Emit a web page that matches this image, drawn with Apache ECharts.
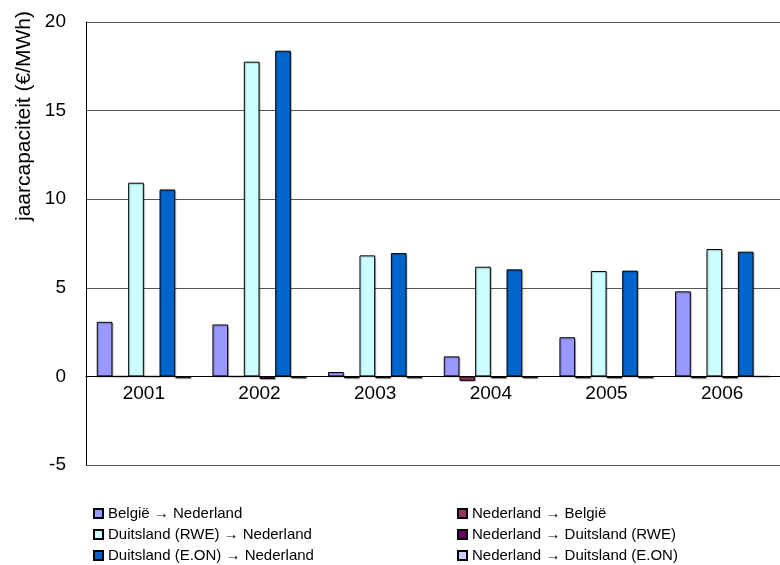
<!DOCTYPE html>
<html>
<head>
<meta charset="utf-8">
<script src="https://cdn.jsdelivr.net/npm/echarts@6/dist/echarts.min.js"></script>
<style>
  html, body { margin: 0; padding: 0; background: #fff; }
  #chart { width: 780px; height: 565px; }
</style>
</head>
<body>
<div id="chart"></div>
<script>
// jaren
var years = ['2001', '2002', '2003', '2004', '2005', '2006'];

// reeksnamen
var names = [
    'België → Nederland',
    'Nederland → België',
    'Duitsland (RWE) → Nederland',
    'Nederland → Duitsland (RWE)',
    'Duitsland (E.ON) → Nederland',
    'Nederland → Duitsland (E.ON)'
];

var beNl    = [3.08, 2.93, 0.25, 1.13, 2.21, 4.8];
var nlBe    = [0, 0, -0.1, -0.25, -0.1, -0.1];
var rweNl   = [10.93, 17.76, 6.83, 6.19, 5.95, 7.19];
var nlRwe   = [0, -0.15, -0.1, -0.1, -0.1, -0.1];
var eonNl   = [10.55, 18.38, 6.96, 6.04, 5.97, 7.04];
var nlEon   = [-0.1, -0.1, -0.1, -0.1, -0.1, 0];

var yTicks = [-5, 0, 5, 10, 15, 20];

var colors = ['#9999ff', '#993366', '#ccffff', '#660066', '#0066cc', '#ccccff'];
var values = [beNl, nlBe, rweNl, nlRwe, eonNl, nlEon];

var myChart = echarts.init(document.getElementById('chart'));

var gridTop = 22, gridBottom = 100, chartH = 565;
var plotH = chartH - gridTop - gridBottom;
// afstand van onderkant plot tot nullijn
var zeroOffset = plotH * (0 - yTicks[0]) / (yTicks[yTicks.length - 1] - yTicks[0]);

var series = [];
for (var i = 0; i < names.length; i++) {
    series.push({
        name: names[i],
        type: 'bar',
        data: values[i],
        barGap: 0,
        barCategoryGap: '18.6%',
        itemStyle: {
            color: colors[i],
            borderColor: '#000',
            borderWidth: 1,
            shadowColor: 'rgba(0,0,0,0.25)',
            shadowOffsetX: 1,
            shadowOffsetY: 1,
            shadowBlur: 1
        }
    });
}

// legenda: twee kolommen van drie
var legends = [];
var rowY = [501, 522, 543];
for (var k = 0; k < names.length; k++) {
    legends.push({
        left: k % 2 === 0 ? 88 : 452,
        top: rowY[Math.floor(k / 2)],
        icon: 'rect',
        itemWidth: 9,
        itemHeight: 9,
        data: [names[k]],
        textStyle: { fontSize: 15, color: '#000' }
    });
}

myChart.setOption({
    animation: false,
    textStyle: { fontFamily: 'Liberation Sans, Arial, sans-serif' },
    grid: {
        left: 86,
        right: 0,
        top: gridTop,
        bottom: gridBottom
    },
    legend: legends,
    graphic: [
        {
            type: 'text',
            x: 24,
            y: 116,
            rotation: Math.PI / 2,
            style: {
                text: 'jaarcapaciteit (€/MWh)',
                font: '21px "Liberation Sans", Arial, sans-serif',
                fill: '#000',
                textAlign: 'center',
                textVerticalAlign: 'middle'
            }
        }
    ],
    xAxis: {
        type: 'category',
        data: years,
        offset: -zeroOffset,
        axisLine: { onZero: false, lineStyle: { color: '#000', width: 1 } },
        axisTick: { show: false },
        axisLabel: { color: '#000', fontSize: 19, margin: 8 }
    },
    yAxis: {
        type: 'value',
        min: yTicks[0],
        max: yTicks[yTicks.length - 1],
        interval: 5,
        axisLine: { show: true, lineStyle: { color: '#000' } },
        axisTick: { show: false },
        axisLabel: { color: '#000', fontSize: 19, margin: 20 },
        splitLine: { lineStyle: { color: '#555', width: 1 } }
    },
    series: series
});
</script>
</body>
</html>
